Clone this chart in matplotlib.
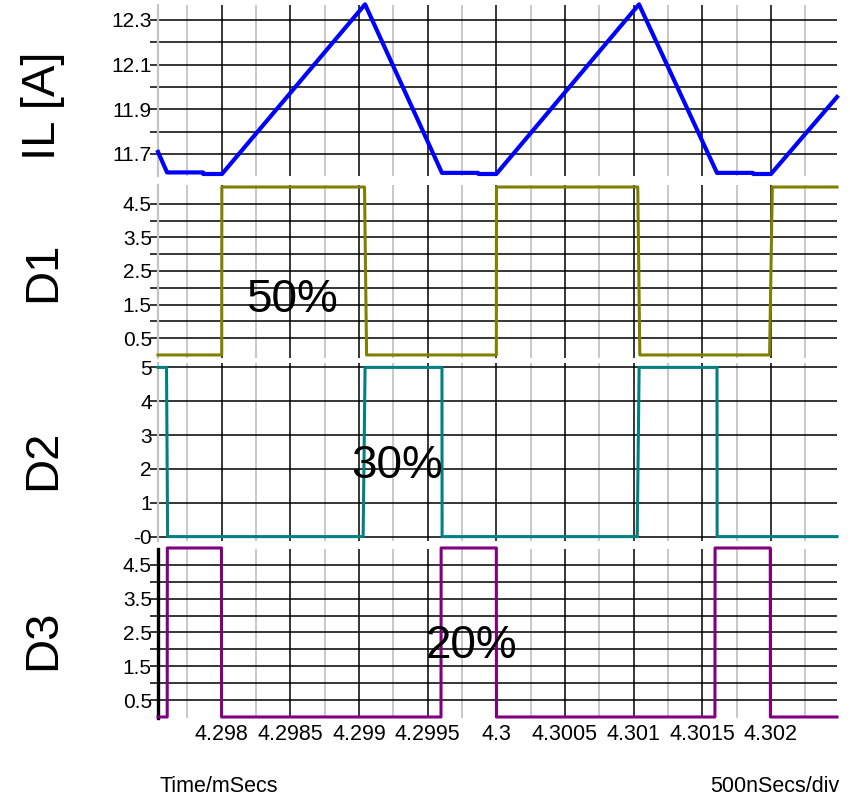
import matplotlib.pyplot as plt

plt.rcParams['font.family'] = ['Liberation Sans', 'DejaVu Sans']

# ---- data (time in ms) ----
t_il = [4.297536, 4.297602, 4.297864, 4.297866, 4.298002, 4.299044, 4.299604,
        4.299867, 4.299869, 4.300000, 4.301039, 4.301607, 4.301869, 4.301871,
        4.302000, 4.302481]
il = [11.709, 11.617, 11.617, 11.610, 11.610, 12.370, 11.615,
      11.615, 11.610, 11.610, 12.370, 11.615, 11.615, 11.610,
      11.610, 11.955]

t_d1 = [4.297536, 4.298000, 4.298001, 4.299040, 4.299055, 4.300000, 4.300001,
        4.301030, 4.301045, 4.301990, 4.302010, 4.302481]
d1 = [0, 0, 5, 5, 0, 0, 5, 5, 0, 0, 5, 5]

t_d2 = [4.297536, 4.297598, 4.297606, 4.299030, 4.299044, 4.299604, 4.299605,
        4.301026, 4.301040, 4.301607, 4.301608, 4.302481]
d2 = [5, 5, 0, 0, 5, 5, 0, 0, 5, 5, 0, 0]

t_d3 = [4.297536, 4.297603, 4.297604, 4.297998, 4.297999, 4.299597, 4.299598,
        4.300000, 4.300001, 4.301592, 4.301593, 4.301995, 4.301996, 4.302481]
d3 = [0, 0, 5, 5, 0, 0, 5, 5, 0, 0, 5, 5, 0, 0]

time_ticks = [4.298, 4.2985, 4.299, 4.2995, 4.3, 4.3005, 4.301, 4.3015, 4.302]
time_labels = ['4.298', '4.2985', '4.299', '4.2995', '4.3', '4.3005', '4.301',
               '4.3015', '4.302']
time_minor = [4.29775, 4.29825, 4.29875, 4.29925, 4.29975, 4.30025, 4.30075,
              4.30125, 4.30175, 4.30225]

il_ticks = [11.7, 11.9, 12.1, 12.3]
il_minor = [11.8, 12.0, 12.2]
d_ticks = [0.5, 1.5, 2.5, 3.5, 4.5]
d_minor = [1, 2, 3, 4]
d2_ticks = [0, 1, 2, 3, 4, 5]
d2_labels = ['-0', '1', '2', '3', '4', '5']

W, H = 850, 798
fig = plt.figure(figsize=(W / 100, H / 100), dpi=100)

left = 158 / W
width = (837 - 158) / W

def make_ax(top_px, bot_px):
    return fig.add_axes([left, 1 - bot_px / H, width, (bot_px - top_px) / H])

ax_il = make_ax(5, 176)
ax_d1 = make_ax(185, 358)
ax_d2 = make_ax(363, 541)
ax_d3 = make_ax(549, 718)
axes = [ax_il, ax_d1, ax_d2, ax_d3]

ax_il.plot(t_il, il, color='#0000ff', lw=3.0, clip_on=False, zorder=5)
ax_d1.plot(t_d1, d1, color='#808000', lw=2.2, clip_on=False, zorder=5)
ax_d2.plot(t_d2, d2, color='#008080', lw=2.2, clip_on=False, zorder=5)
ax_d3.plot(t_d3, d3, color='#800080', lw=2.2, clip_on=False, zorder=5)

ax_il.set_ylim(11.601, 12.367)
ax_d1.set_ylim(-0.09, 5.06)
ax_d2.set_ylim(-0.13, 5.13)
ax_d3.set_ylim(-0.03, 4.97)

ax_il.set_yticks(il_ticks)
ax_il.set_yticklabels(['11.7', '11.9', '12.1', '12.3'])
ax_il.set_yticks(il_minor, minor=True)
for ax in (ax_d1, ax_d3):
    ax.set_yticks(d_ticks)
    ax.set_yticklabels(['0.5', '1.5', '2.5', '3.5', '4.5'])
    ax.set_yticks(d_minor, minor=True)
ax_d2.set_yticks(d2_ticks)
ax_d2.set_yticklabels(d2_labels)

for ax in axes:
    ax.set_xlim(4.297536, 4.302481)
    ax.set_xticks(time_ticks)
    ax.set_xticks(time_minor, minor=True)
    ax.set_axisbelow(True)
    for s in ('top', 'right', 'bottom'):
        ax.spines[s].set_visible(False)
    ax.spines['left'].set_color('#c4c4c4')
    ax.spines['left'].set_linewidth(1.6)
    ax.grid(axis='y', which='both', color='black', lw=1.1)
    ax.grid(axis='x', which='major', color='black', lw=1.1)
    ax.grid(axis='x', which='minor', color='#c8c8c8', lw=1.4)
    ax.tick_params(axis='y', which='both', length=6, width=1.1, color='black',
                   direction='out', pad=-1.5, labelsize=15)
    ax.tick_params(axis='x', which='both', length=0, labelsize=15.5, pad=4)
    if ax is not ax_d3:
        ax.tick_params(axis='x', labelbottom=False)

ax_d3.set_xticklabels(time_labels)
ax_d3.spines['left'].set_color('black')
ax_d3.spines['left'].set_linewidth(2.4)

# duty-cycle annotations
ax_d1.text(4.298512, 1.28, '50%', fontsize=33, ha='center', va='baseline', zorder=6)
ax_d2.text(4.299277, 1.72, '30%', fontsize=33, ha='center', va='baseline', zorder=6)
ax_d3.text(4.299816, 1.75, '20%', fontsize=33, ha='center', va='baseline', zorder=6)

# channel names
for name, yc in (('IL [A]', 106), ('D1', 272), ('D2', 460), ('D3', 640)):
    fig.text(43 / W, 1 - yc / H, name, rotation=90, fontsize=34,
             ha='center', va='center')

fig.text(160 / W, 1 - 792 / H, 'Time/mSecs', fontsize=15.5, ha='left', va='baseline')
fig.text(710 / W, 1 - 792 / H, '500nSecs/div', fontsize=15.5, ha='left', va='baseline')

fig.savefig('out.png', dpi=100)
